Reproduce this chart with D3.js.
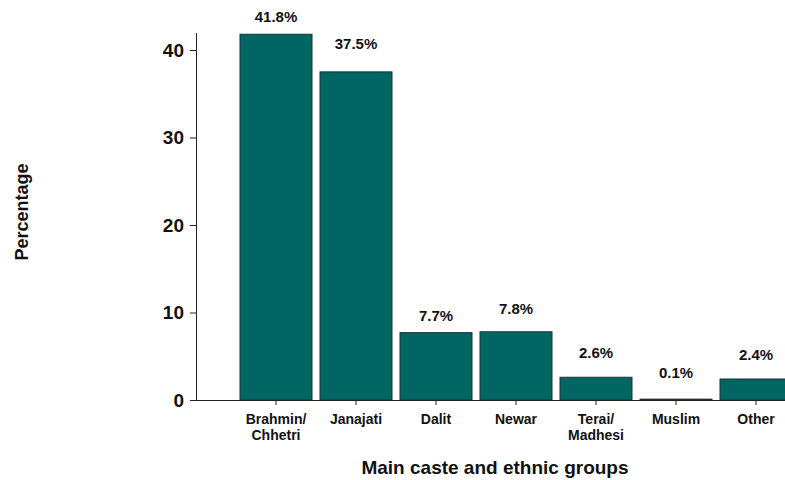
<!DOCTYPE html>
<html>
<head>
<meta charset="utf-8">
<script src="https://cdn.jsdelivr.net/npm/d3@7"></script>
<style>
  html, body { margin: 0; padding: 0; background: #fff; }
  svg { display: block; font-family: "Liberation Sans", Arial, sans-serif; }
</style>
</head>
<body>
<svg id="chart" width="785" height="480"></svg>
<script>
// ---- data ----
const categories = ["Brahmin/\nChhetri", "Janajati", "Dalit", "Newar", "Terai/\nMadhesi", "Muslim", "Other"];
const values = [41.8, 37.5, 7.7, 7.8, 2.6, 0.1, 2.4];
const yTicks = [0, 10, 20, 30, 40];
const xTitle = "Main caste and ethnic groups";
const yTitle = "Percentage";

// ---- layout (not data) ----
const labelGap = [12, 23, 12, 18, 19, 21, 19];

const svg = d3.select("#chart");

const x = d3.scaleBand()
  .domain(categories)
  .range([236, 796])
  .paddingInner(0.1)
  .paddingOuter(0.05);

const y = d3.scaleLinear()
  .domain([0, 42])
  .range([400, 32.5]);

// bars
svg.append("g").selectAll("rect")
  .data(values)
  .join("rect")
  .attr("x", (d, i) => x(categories[i]))
  .attr("y", d => y(d))
  .attr("width", x.bandwidth())
  .attr("height", d => y(0) - y(d))
  .attr("fill", "#006664")
  .attr("stroke", "#1c3434")
  .attr("stroke-width", 1);

// value labels
svg.append("g").selectAll("text")
  .data(values)
  .join("text")
  .attr("x", (d, i) => x(categories[i]) + x.bandwidth() / 2)
  .attr("y", (d, i) => y(d) - labelGap[i])
  .attr("text-anchor", "middle")
  .attr("font-size", 15)
  .attr("font-weight", "bold")
  .attr("fill", "#111")
  .text(d => d.toFixed(1) + "%");

// y axis
const yAxis = svg.append("g")
  .attr("transform", "translate(196,0)")
  .call(d3.axisLeft(y).tickValues(yTicks).tickSize(6).tickSizeOuter(0).tickPadding(6));
yAxis.select(".domain").attr("stroke", "#222");
yAxis.selectAll(".tick line").attr("stroke", "#222");
yAxis.selectAll(".tick text")
  .attr("font-size", 19)
  .attr("font-weight", "bold")
  .attr("fill", "#111")
  .attr("font-family", "Liberation Sans, Arial, sans-serif");

// x axis
const xAxis = svg.append("g")
  .attr("transform", "translate(0,400)")
  .call(d3.axisBottom(x).tickSize(5).tickSizeOuter(0).tickFormat(""));
xAxis.select(".domain").attr("d", "M196,0.5H785").attr("stroke", "#222");
xAxis.selectAll(".tick line").attr("stroke", "#222");

// x tick labels (multi-line)
const xl = svg.append("g").selectAll("text")
  .data(categories)
  .join("text")
  .attr("x", d => x(d) + x.bandwidth() / 2)
  .attr("y", 424)
  .attr("text-anchor", "middle")
  .attr("font-size", 14)
  .attr("font-weight", "bold")
  .attr("fill", "#111");
xl.each(function(d) {
  const lines = d.split("\n");
  const t = d3.select(this);
  lines.forEach((ln, k) => {
    t.append("tspan")
      .attr("x", x(d) + x.bandwidth() / 2)
      .attr("dy", k === 0 ? 0 : 16)
      .text(ln);
  });
});

// axis titles
svg.append("text")
  .attr("x", 495)
  .attr("y", 474)
  .attr("text-anchor", "middle")
  .attr("font-size", 19)
  .attr("font-weight", "bold")
  .attr("fill", "#111")
  .text(xTitle);

svg.append("text")
  .attr("transform", "translate(28,212) rotate(-90)")
  .attr("text-anchor", "middle")
  .attr("font-size", 18)
  .attr("font-weight", "bold")
  .attr("fill", "#111")
  .text(yTitle);
</script>
</body>
</html>
